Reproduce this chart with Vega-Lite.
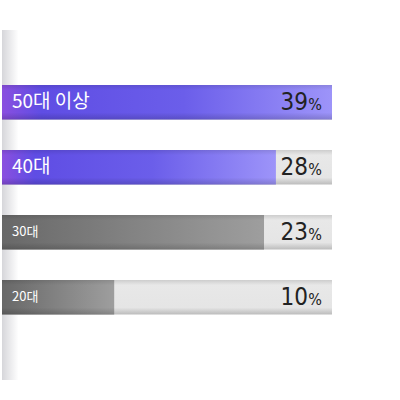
{
  "$schema": "https://vega.github.io/schema/vega-lite/v6.json",
  "width": 330,
  "height": 350,
  "autosize": "none",
  "padding": {"left": 2, "top": 30, "right": 68, "bottom": 20},
  "background": "white",
  "config": {
    "view": {
      "stroke": null,
      "fill": {
        "gradient": "linear", "x1": 0, "y1": 0, "x2": 1, "y2": 0,
        "stops": [
          {"offset": 0, "color": "#d6d6da"},
          {"offset": 0.05, "color": "#ffffff"}
        ]
      }
    }
  },
  "data": {
    "values": [
      {"group": "50대 이상", "pct": 39, "fill": 100, "tier": "top"},
      {"group": "40대", "pct": 28, "fill": 83, "tier": "top"},
      {"group": "30대", "pct": 23, "fill": 79.4, "tier": "low"},
      {"group": "20대", "pct": 10, "fill": 34, "tier": "low"}
    ]
  },
  "encoding": {
    "y": {
      "field": "group", "type": "nominal", "sort": null, "axis": null,
      "scale": {"paddingInner": 0.47, "paddingOuter": 0.9273, "align": 0.456}
    }
  },
  "layer": [
    {
      "mark": {
        "type": "bar",
        "fill": {
          "gradient": "linear", "x1": 0, "y1": 0, "x2": 0, "y2": 1,
          "stops": [
            {"offset": 0, "color": "#cdcdcd"},
            {"offset": 0.15, "color": "#e8e8e8"},
            {"offset": 0.8, "color": "#e5e5e5"},
            {"offset": 1, "color": "#bcbcbc"}
          ]
        }
      },
      "encoding": {
        "x": {"datum": 100, "type": "quantitative", "scale": {"domain": [0, 100]}, "axis": null}
      }
    },
    {
      "transform": [{"filter": "datum.tier == 'top'"}],
      "mark": {
        "type": "bar",
        "fill": {
          "gradient": "linear", "x1": 0, "y1": 0, "x2": 1, "y2": 0,
          "stops": [
            {"offset": 0, "color": "#8a4fdf"},
            {"offset": 0.12, "color": "#5f4de4"},
            {"offset": 0.55, "color": "#6b5eea"},
            {"offset": 1, "color": "#9d94f9"}
          ]
        }
      },
      "encoding": {
        "x": {"field": "fill", "type": "quantitative", "scale": {"domain": [0, 100]}, "axis": null}
      }
    },
    {
      "transform": [{"filter": "datum.tier == 'low'"}],
      "mark": {
        "type": "bar",
        "fill": {
          "gradient": "linear", "x1": 0, "y1": 0, "x2": 1, "y2": 0,
          "stops": [
            {"offset": 0, "color": "#686868"},
            {"offset": 1, "color": "#9e9e9e"}
          ]
        }
      },
      "encoding": {
        "x": {"field": "fill", "type": "quantitative", "scale": {"domain": [0, 100]}, "axis": null}
      }
    },
    {
      "mark": {
        "type": "bar",
        "fill": {
          "gradient": "linear", "x1": 0, "y1": 0, "x2": 0, "y2": 1,
          "stops": [
            {"offset": 0, "color": "rgba(0,0,0,0.10)"},
            {"offset": 0.15, "color": "rgba(0,0,0,0)"},
            {"offset": 0.8, "color": "rgba(0,0,0,0)"},
            {"offset": 1, "color": "rgba(0,0,0,0.16)"}
          ]
        }
      },
      "encoding": {
        "x": {"field": "fill", "type": "quantitative", "scale": {"domain": [0, 100]}, "axis": null}
      }
    },
    {
      "mark": {"type": "text", "align": "left", "baseline": "middle", "dx": 10, "color": "white", "font": "Noto Sans CJK KR"},
      "encoding": {
        "x": {"datum": 0, "type": "quantitative", "scale": {"domain": [0, 100]}, "axis": null},
        "text": {"field": "group"},
        "size": {"field": "tier", "type": "nominal", "scale": {"domain": ["top", "low"], "range": [19, 13]}, "legend": null}
      }
    },
    {
      "mark": {"type": "text", "align": "right", "baseline": "middle", "dx": -24, "dy": 1, "fontSize": 24, "color": "#222222", "font": "DejaVu Sans Condensed"},
      "encoding": {
        "x": {"datum": 100, "type": "quantitative", "scale": {"domain": [0, 100]}, "axis": null},
        "text": {"field": "pct"}
      }
    },
    {
      "mark": {"type": "text", "align": "right", "baseline": "middle", "dx": -10, "dy": 3, "fontSize": 16, "color": "#222222", "font": "DejaVu Sans Condensed", "text": "%"},
      "encoding": {
        "x": {"datum": 100, "type": "quantitative", "scale": {"domain": [0, 100]}, "axis": null}
      }
    }
  ]
}
